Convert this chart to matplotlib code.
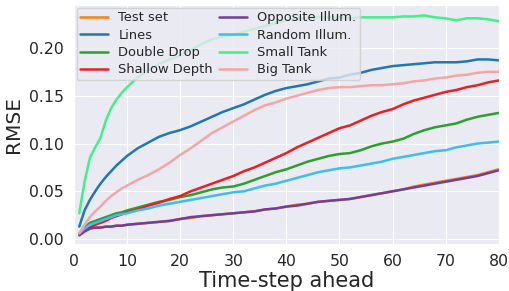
import numpy as np
import matplotlib
matplotlib.use("Agg")
import matplotlib.pyplot as plt
import seaborn as sns

# RMSE per prediction horizon
steps = [1, 2, 3, 4, 5, 6, 7, 8, 9, 10, 12, 14, 16, 18, 20, 22, 24, 26, 28, 30,
         32, 34, 36, 38, 40, 42, 44, 46, 48, 50, 52, 54, 56, 58, 60, 62, 64, 66,
         68, 70, 72, 74, 76, 78, 80]

test_set = [0.004, 0.008, 0.011, 0.012, 0.012, 0.013, 0.013, 0.014, 0.014, 0.015,
            0.016, 0.017, 0.018, 0.019, 0.021, 0.022, 0.024, 0.025, 0.026, 0.027,
            0.028, 0.029, 0.031, 0.032, 0.034, 0.036, 0.037, 0.039, 0.040, 0.041,
            0.042, 0.044, 0.046, 0.048, 0.050, 0.052, 0.055, 0.057, 0.059, 0.061,
            0.063, 0.065, 0.067, 0.070, 0.073]
lines = [0.013, 0.030, 0.041, 0.050, 0.058, 0.065, 0.071, 0.077, 0.082, 0.087,
         0.095, 0.101, 0.107, 0.111, 0.114, 0.118, 0.123, 0.128, 0.133, 0.137,
         0.141, 0.146, 0.151, 0.155, 0.158, 0.160, 0.162, 0.165, 0.168, 0.169,
         0.172, 0.174, 0.177, 0.179, 0.181, 0.182, 0.183, 0.184, 0.185, 0.185,
         0.185, 0.186, 0.188, 0.188, 0.187]
double_drop = [0.006, 0.012, 0.017, 0.019, 0.021, 0.023, 0.025, 0.027, 0.028, 0.030,
               0.033, 0.036, 0.039, 0.041, 0.044, 0.046, 0.049, 0.052, 0.054, 0.055,
               0.058, 0.062, 0.066, 0.070, 0.073, 0.077, 0.081, 0.084, 0.087, 0.089,
               0.090, 0.093, 0.097, 0.100, 0.102, 0.105, 0.110, 0.114, 0.117, 0.119,
               0.121, 0.125, 0.128, 0.130, 0.132]
shallow_depth = [0.005, 0.009, 0.012, 0.015, 0.017, 0.019, 0.022, 0.024, 0.026, 0.028,
                 0.031, 0.035, 0.038, 0.042, 0.045, 0.050, 0.054, 0.058, 0.062, 0.066,
                 0.071, 0.075, 0.080, 0.085, 0.090, 0.096, 0.101, 0.106, 0.111, 0.116,
                 0.119, 0.124, 0.129, 0.133, 0.136, 0.141, 0.145, 0.148, 0.151, 0.154,
                 0.156, 0.159, 0.161, 0.164, 0.166]
opposite_illum = [0.004, 0.008, 0.011, 0.012, 0.012, 0.013, 0.013, 0.014, 0.014, 0.015,
                  0.016, 0.017, 0.018, 0.019, 0.021, 0.023, 0.024, 0.025, 0.026, 0.027,
                  0.028, 0.029, 0.031, 0.032, 0.034, 0.035, 0.037, 0.039, 0.040, 0.041,
                  0.042, 0.044, 0.046, 0.048, 0.050, 0.052, 0.054, 0.056, 0.058, 0.060,
                  0.062, 0.064, 0.066, 0.069, 0.072]
random_illum = [0.006, 0.011, 0.015, 0.017, 0.019, 0.021, 0.023, 0.025, 0.026, 0.027,
                0.030, 0.032, 0.035, 0.037, 0.039, 0.041, 0.043, 0.045, 0.047, 0.049,
                0.050, 0.053, 0.056, 0.058, 0.061, 0.064, 0.067, 0.070, 0.072, 0.074,
                0.075, 0.077, 0.079, 0.081, 0.084, 0.086, 0.088, 0.090, 0.092, 0.093,
                0.096, 0.098, 0.100, 0.101, 0.102]
small_tank = [0.027, 0.060, 0.085, 0.096, 0.106, 0.124, 0.137, 0.146, 0.153, 0.159,
              0.169, 0.177, 0.183, 0.188, 0.192, 0.198, 0.204, 0.209, 0.212, 0.213,
              0.217, 0.220, 0.223, 0.226, 0.229, 0.231, 0.231, 0.232, 0.232, 0.232,
              0.231, 0.232, 0.232, 0.232, 0.232, 0.233, 0.233, 0.234, 0.232, 0.231,
              0.229, 0.231, 0.231, 0.230, 0.228]
big_tank = [0.006, 0.015, 0.023, 0.029, 0.034, 0.040, 0.045, 0.049, 0.053, 0.056,
            0.062, 0.067, 0.073, 0.080, 0.088, 0.095, 0.103, 0.111, 0.117, 0.123,
            0.129, 0.135, 0.140, 0.143, 0.147, 0.150, 0.153, 0.156, 0.158, 0.159,
            0.159, 0.160, 0.161, 0.161, 0.162, 0.163, 0.165, 0.166, 0.168, 0.169,
            0.171, 0.172, 0.174, 0.175, 0.175]

series = [
    ("Test set", test_set, "#ff7f0e"),
    ("Lines", lines, "#1f77b4"),
    ("Double Drop", double_drop, "#2ca02c"),
    ("Shallow Depth", shallow_depth, "#ee1d23"),
    ("Opposite Illum.", opposite_illum, "#6f3f9f"),
    ("Random Illum.", random_illum, "#3dbdf2"),
    ("Small Tank", small_tank, "#45ee8a"),
    ("Big Tank", big_tank, "#f4a6a6"),
]

sns.set_style("darkgrid")
plt.rcParams['font.family'] = ['DejaVu Sans']

fig = plt.figure(figsize=(5.1, 2.91), dpi=100)
ax = fig.add_axes([0.145, 0.162, 0.833, 0.821])

for name, vals, col in series:
    ax.plot(steps, vals, color=col, lw=1.8, label=name)

ax.set_xlim(0, 80)
ax.set_ylim(-0.005, 0.245)
ax.set_xticks(np.arange(0, 81, 10))
ax.set_yticks(np.arange(0, 0.201, 0.05))
ax.yaxis.set_major_formatter(matplotlib.ticker.FormatStrFormatter('%.2f'))
ax.tick_params(labelsize=11.3, pad=4)
ax.set_xlabel("Time-step ahead", fontsize=15, labelpad=1)
ax.set_ylabel("RMSE", fontsize=14.5, labelpad=4)

ax.legend(loc="upper left", ncol=2, fontsize=9.4, borderaxespad=0.2,
          handlelength=2.1, labelspacing=0.33, columnspacing=0.5,
          borderpad=0.3, frameon=True)

fig.savefig("out.png", dpi=100)
